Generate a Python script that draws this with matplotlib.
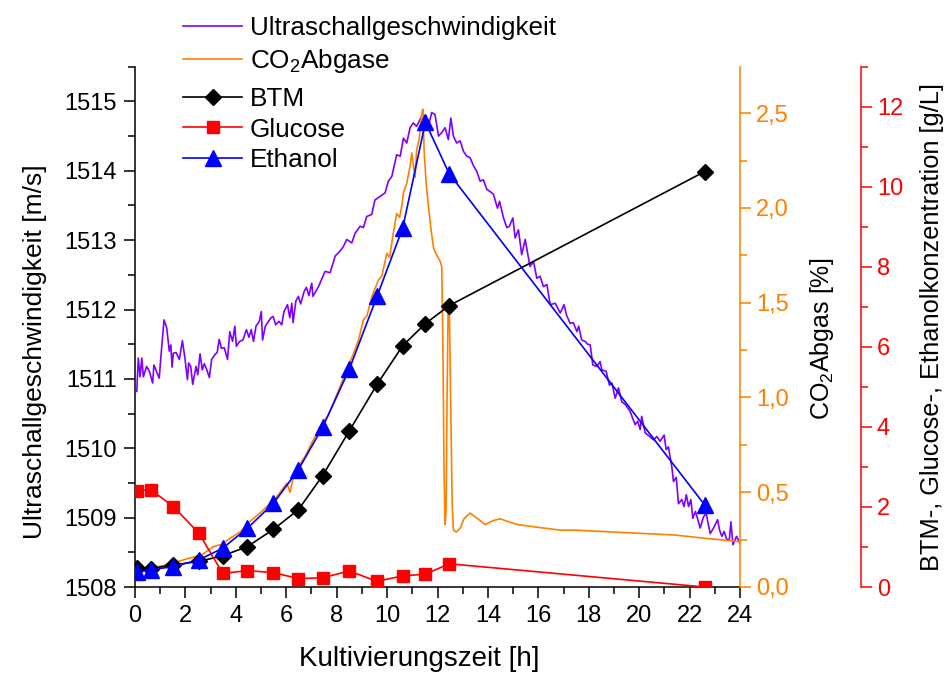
import matplotlib
matplotlib.use("Agg")
import matplotlib.pyplot as plt
from matplotlib.ticker import MultipleLocator, FuncFormatter

plt.rcParams['font.family'] = ['Liberation Sans', 'DejaVu Sans']

# ultrasound velocity (m/s) over cultivation time (h)
t_us = [0.07, 0.13, 0.20, 0.27, 0.33, 0.46, 0.57, 0.70, 0.75, 0.96, 1.03, 1.15, 1.26, 1.36,
        1.42, 1.47, 1.52, 1.63, 1.76, 1.88, 1.98, 2.08, 2.13, 2.21, 2.29, 2.42, 2.49, 2.58,
        2.67, 2.75, 2.84, 2.95, 3.04, 3.17, 3.26, 3.34, 3.43, 3.54, 3.67, 3.76, 3.87, 3.96,
        4.02, 4.15, 4.28, 4.42, 4.52, 4.61, 4.70, 4.80, 4.93, 5.01, 5.06, 5.17, 5.26, 5.39,
        5.48, 5.58, 5.71, 5.82, 5.91, 6.05, 6.14, 6.22, 6.27, 6.38, 6.48, 6.57, 6.71, 6.80,
        6.90, 7.01, 7.06, 7.28, 7.54, 7.74, 7.94, 8.13, 8.27, 8.40, 8.60, 8.73, 8.93, 9.06,
        9.19, 9.39, 9.52, 9.72, 9.92, 10.05, 10.19, 10.38, 10.52, 10.65, 10.78, 10.91, 11.04,
        11.17, 11.31, 11.44, 11.64, 11.77, 11.90, 12.04, 12.17, 12.30, 12.43, 12.53, 12.63,
        12.76, 12.90, 13.03, 13.16, 13.29, 13.43, 13.56, 13.69, 13.82, 13.96, 14.09, 14.22,
        14.38, 14.46, 14.62, 14.75, 14.85, 14.99, 15.08, 15.21, 15.34, 15.48, 15.57, 15.67,
        15.81, 15.94, 16.07, 16.20, 16.34, 16.47, 16.67, 16.87, 17.02, 17.12, 17.26, 17.39,
        17.53, 17.60, 17.72, 17.86, 17.95, 18.06, 18.16, 18.32, 18.45, 18.52, 18.69, 18.82,
        18.92, 19.05, 19.18, 19.31, 19.45, 19.64, 19.84, 19.94, 20.04, 20.10, 20.24, 20.42,
        20.57, 20.70, 20.83, 20.99, 21.07, 21.16, 21.30, 21.36, 21.47, 21.56, 21.69, 21.78,
        21.87, 21.96, 22.05, 22.13, 22.23, 22.33, 22.42, 22.55, 22.66, 22.75, 22.82, 22.95,
        23.11, 23.19, 23.28, 23.37, 23.48, 23.58, 23.64, 23.72, 23.80, 23.86, 24.00]
v_us = [1510.82, 1511.30, 1511.03, 1511.30, 1511.03, 1511.18, 1511.11, 1510.94, 1511.20,
        1511.01, 1511.33, 1511.85, 1511.73, 1511.40, 1511.49, 1511.17, 1511.37, 1511.38,
        1511.28, 1511.55, 1511.30, 1510.99, 1511.23, 1511.18, 1510.92, 1511.18, 1511.06,
        1511.36, 1511.13, 1511.22, 1511.14, 1511.02, 1511.28, 1511.35, 1511.38, 1511.57,
        1511.44, 1511.45, 1511.28, 1511.68, 1511.54, 1511.76, 1511.47, 1511.54, 1511.56,
        1511.71, 1511.60, 1511.71, 1511.54, 1511.76, 1511.83, 1511.97, 1511.56, 1511.76,
        1511.81, 1511.88, 1511.90, 1511.78, 1511.83, 1511.78, 1511.97, 1512.07, 1511.88,
        1512.09, 1511.81, 1512.12, 1512.19, 1512.08, 1512.26, 1512.32, 1512.20, 1512.38,
        1512.19, 1512.33, 1512.55, 1512.53, 1512.77, 1512.84, 1512.91, 1513.01, 1512.96,
        1513.10, 1513.20, 1513.18, 1513.34, 1513.37, 1513.58, 1513.63, 1513.68, 1513.85,
        1513.92, 1514.23, 1514.21, 1514.47, 1514.40, 1514.62, 1514.69, 1514.64, 1514.74,
        1514.81, 1514.64, 1514.84, 1514.81, 1514.50, 1514.55, 1514.62, 1514.45, 1514.76,
        1514.50, 1514.40, 1514.43, 1514.28, 1514.21, 1514.19, 1514.07, 1513.99, 1513.85,
        1513.87, 1513.73, 1513.70, 1513.66, 1513.46, 1513.56, 1513.32, 1513.18, 1513.20,
        1513.32, 1513.03, 1513.15, 1512.79, 1513.01, 1512.82, 1512.62, 1512.69, 1512.45,
        1512.48, 1512.33, 1512.36, 1512.07, 1512.09, 1511.95, 1512.07, 1511.92, 1511.80,
        1511.81, 1511.68, 1511.76, 1511.56, 1511.54, 1511.50, 1511.49, 1511.20, 1511.18,
        1511.25, 1511.13, 1511.11, 1510.91, 1510.94, 1510.72, 1510.87, 1510.67, 1510.63,
        1510.53, 1510.34, 1510.39, 1510.27, 1510.46, 1510.22, 1510.17, 1510.12, 1510.17,
        1510.10, 1510.19, 1509.98, 1510.02, 1509.72, 1509.52, 1509.58, 1509.20, 1509.26,
        1509.16, 1509.33, 1509.16, 1509.26, 1508.99, 1509.09, 1508.97, 1508.85, 1509.01,
        1509.06, 1508.89, 1508.77, 1508.85, 1508.97, 1508.82, 1508.73, 1508.80, 1508.68,
        1508.69, 1508.94, 1508.61, 1508.68, 1508.73, 1508.63]

# CO2 in off-gas (%)
t_co2 = [0.0, 0.5, 1.0, 1.52, 2.1, 2.64, 3.11, 3.44, 3.77, 4.17, 4.56, 5.09, 5.62, 6.02,
         6.15, 6.28, 6.55, 6.75, 7.01, 7.34, 7.67, 7.87, 8.13, 8.40, 8.66, 8.86, 9.06, 9.20,
         9.39, 9.66, 9.79, 9.99, 10.10, 10.25, 10.38, 10.50, 10.58, 10.65, 10.78, 10.91,
         10.98, 11.11, 11.17, 11.28, 11.33, 11.38, 11.42, 11.47, 11.55, 11.64, 11.73, 11.84,
         11.97, 12.10, 12.17, 12.22, 12.26, 12.30, 12.34, 12.38, 12.42, 12.47, 12.52, 12.58,
         12.63, 12.75, 12.90, 13.05, 13.29, 13.50, 13.89, 14.20, 14.48, 14.80, 15.15, 15.80,
         16.87, 17.46, 19.44, 21.43, 22.62, 24.0]
c_co2 = [0.08, 0.10, 0.11, 0.127, 0.15, 0.169, 0.213, 0.225, 0.257, 0.29, 0.345, 0.406,
         0.476, 0.547, 0.50, 0.58, 0.65, 0.69, 0.76, 0.845, 0.907, 0.97, 1.056, 1.145, 1.23,
         1.30, 1.41, 1.43, 1.53, 1.62, 1.64, 1.76, 1.74, 1.87, 1.97, 1.95, 2.01, 2.08, 2.13,
         2.22, 2.29, 2.16, 2.30, 2.37, 2.44, 2.50, 2.52, 2.30, 2.13, 2.01, 1.90, 1.79, 1.75,
         1.72, 1.69, 1.2, 0.6, 0.33, 0.40, 1.0, 1.46, 1.48, 1.0, 0.45, 0.30, 0.29, 0.31, 0.36,
         0.39, 0.37, 0.33, 0.35, 0.36, 0.345, 0.33, 0.318, 0.30, 0.30, 0.287, 0.274, 0.257,
         0.239]

# sampled concentrations (g/L)
t_probe = [0.07, 0.62, 1.52, 2.54, 3.48, 4.46, 5.49, 6.48, 7.44, 8.50, 9.60, 10.62, 11.52,
           12.46, 22.60]
btm = [0.48, 0.46, 0.55, 0.64, 0.78, 1.01, 1.44, 1.93, 2.78, 3.90, 5.06, 6.03, 6.58, 7.03,
       10.38]
glucose = [2.41, 2.43, 2.01, 1.34, 0.34, 0.41, 0.36, 0.21, 0.23, 0.40, 0.14, 0.28, 0.32,
           0.58, 0.0]
ethanol = [0.37, 0.43, 0.51, 0.68, 0.97, 1.47, 2.09, 2.93, 3.99, 5.44, 7.26, 8.97, 11.61,
           10.33, 2.05]

c_us = '#7F00FF'
c_co = '#FF8000'
c_red = '#FF0000'

fig = plt.figure(figsize=(9.5, 6.75), dpi=100)
ax = fig.add_axes([135/950, 1-587/675, 605/950, (587-66.7)/675])
ax2 = ax.twinx()
ax3 = ax.twinx()

l1, = ax.plot(t_us, v_us, color=c_us, lw=1.2, label='Ultraschallgeschwindigkeit')
l2, = ax2.plot(t_co2, c_co2, color=c_co, lw=1.2, label='CO$_\\mathregular{2}$Abgase')
l3, = ax3.plot(t_probe, btm, color='black', lw=1.2, marker='D', ms=8.5, label='BTM')
l4, = ax3.plot(t_probe, glucose, color=c_red, lw=1.2, marker='s', ms=8.5, label='Glucose')
l5, = ax3.plot(t_probe, ethanol, color='#0000FF', lw=1.2, marker='^', ms=11.5, label='Ethanol')

ax.set_xlim(0, 24)
ax.set_ylim(1508, 1515.5)
ax2.set_ylim(0, 2.745)
ax3.set_ylim(0, 13)

tick_kw = dict(direction='out', width=1.1, labelsize=17)
ax.xaxis.set_major_locator(MultipleLocator(2))
ax.xaxis.set_minor_locator(MultipleLocator(1))
ax.yaxis.set_major_locator(MultipleLocator(1))
ax.yaxis.set_minor_locator(MultipleLocator(0.5))
ax.tick_params(which='major', length=8, pad=5, **tick_kw)
ax.tick_params(which='minor', length=5, direction='out', width=1.1)
ax.spines['top'].set_visible(False)
ax.spines['right'].set_visible(False)
ax.spines['left'].set_linewidth(1.1)
ax.spines['bottom'].set_linewidth(1.1)

ax2.yaxis.set_major_locator(MultipleLocator(0.5))
ax2.yaxis.set_minor_locator(MultipleLocator(0.25))
ax2.yaxis.set_major_formatter(FuncFormatter(lambda v, p: ('%.1f' % v).replace('.', ',')))
ax2.tick_params(axis='y', which='major', length=8, colors=c_co, **tick_kw)
ax2.tick_params(axis='y', which='minor', length=5, colors=c_co, direction='out', width=1.1)
for s in ['top', 'left', 'bottom']:
    ax2.spines[s].set_visible(False)
ax2.spines['right'].set_color(c_co)
ax2.spines['right'].set_linewidth(1.1)

ax3.spines['right'].set_position(('axes', 1.2))
ax3.yaxis.set_major_locator(MultipleLocator(2))
ax3.yaxis.set_minor_locator(MultipleLocator(1))
ax3.tick_params(axis='y', which='major', length=8, colors=c_red, **tick_kw)
ax3.tick_params(axis='y', which='minor', length=5, colors=c_red, direction='out', width=1.1)
for s in ['top', 'left', 'bottom']:
    ax3.spines[s].set_visible(False)
ax3.spines['right'].set_color(c_red)
ax3.spines['right'].set_linewidth(1.1)

ax.set_xlabel('Kultivierungszeit [h]', fontsize=20)
ax.xaxis.set_label_coords(0.47, -0.113)
ax.set_ylabel('Ultraschallgeschwindigkeit [m/s]', fontsize=19)
ax.yaxis.set_label_coords(-0.145, 0.452)
ax2.set_ylabel('CO$_\\mathregular{2}$Abgas [%]', fontsize=18)
ax2.yaxis.set_label_coords(1.112, 0.477)
ax3.set_ylabel('BTM-, Glucose-, Ethanolkonzentration [g/L]', fontsize=18.3)
ax3.yaxis.set_label_coords(1.297, 0.5)

# two stacked legends: continuous signals on top, sampled values below
leg_kw = dict(loc='upper left', frameon=False, fontsize=18.8, handlelength=2.26,
              handletextpad=0.3, borderpad=0, borderaxespad=0)
fig.legend(handles=[l1, l2], bbox_to_anchor=(183/950, 1-16/675),
           labelspacing=0.27, **leg_kw)
fig.legend(handles=[l3, l4, l5], bbox_to_anchor=(183/950, 1-87/675),
           labelspacing=0.25, **leg_kw)

fig.savefig('out.png', dpi=100)
